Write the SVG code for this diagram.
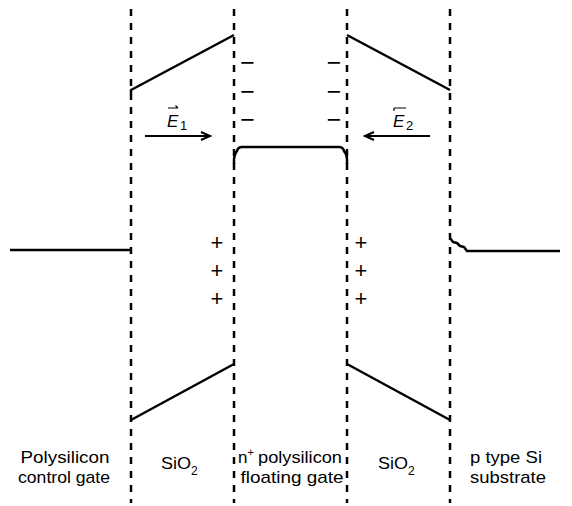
<svg xmlns="http://www.w3.org/2000/svg" width="572" height="506" viewBox="0 0 572 506">
<defs>
<style>
.dash{stroke:#000;stroke-width:2.5;stroke-dasharray:7,7;fill:none}
.band{stroke:#000;stroke-width:2.5;fill:none;stroke-linejoin:round}
.arr{stroke:#000;stroke-width:2.2;fill:none}
.lbl{font-family:"Liberation Sans",Arial,Helvetica,sans-serif;font-size:17px;fill:#000}
.sym{font-family:"Liberation Sans",Arial,Helvetica,sans-serif;font-size:22px;fill:#000}
.neg{font-family:"Liberation Sans",Arial,Helvetica,sans-serif;font-size:25px;fill:#000}
.ital{font-family:"Liberation Sans",Arial,Helvetica,sans-serif;font-size:17px;font-style:italic;fill:#000}
.sub{font-family:"Liberation Sans",Arial,Helvetica,sans-serif;font-size:13px;fill:#000}
</style>
<marker id="ah" markerWidth="12" markerHeight="10" refX="10" refY="5" orient="auto" markerUnits="userSpaceOnUse">
<path d="M1,1 L10,5 L1,9" fill="none" stroke="#000" stroke-width="2"/>
</marker>
</defs>
<g id="boundaries">
<line class="dash" x1="131" y1="9" x2="131" y2="503"/>
<line class="dash" x1="234" y1="9" x2="234" y2="503"/>
<line class="dash" x1="347" y1="9" x2="347" y2="503"/>
<line class="dash" x1="450" y1="9" x2="450" y2="503"/>
</g>
<g id="control-gate">
<line class="band" x1="10" y1="250" x2="131" y2="250"/>
<text class="lbl" x="65" y="463" text-anchor="middle" textLength="89" lengthAdjust="spacingAndGlyphs">Polysilicon</text>
<text class="lbl" x="64" y="483" text-anchor="middle" textLength="92" lengthAdjust="spacingAndGlyphs">control gate</text>
</g>
<g id="oxide-left">
<polyline class="band" points="131,93 131,90 234,35"/>
<line class="band" x1="131" y1="420" x2="234" y2="364"/>
<text class="lbl" x="161" y="469"><tspan textLength="30" lengthAdjust="spacingAndGlyphs">SiO</tspan><tspan font-size="12" dy="6">2</tspan></text>
<text class="ital" x="167" y="127">E</text>
<text class="sub" x="180" y="130">1</text>
<path d="M168,108 H178 M175.5,105.5 L178,108" stroke="#000" stroke-width="1.2" fill="none"/>
<text class="sym" x="217" y="250" text-anchor="middle">+</text>
<text class="sym" x="217" y="278" text-anchor="middle">+</text>
<text class="sym" x="217" y="306" text-anchor="middle">+</text>
</g>
<g id="floating-gate">
<path class="band" d="M234,164 L234,159 Q235,153 237,151 Q238,147 242,147 L339,147 Q343,147 344,151 Q347,154 347,159 L347,164"/>
<text class="neg" x="247.5" y="71" text-anchor="middle">−</text>
<text class="neg" x="247.5" y="100" text-anchor="middle">−</text>
<text class="neg" x="247.5" y="128" text-anchor="middle">−</text>
<text class="neg" x="334" y="71" text-anchor="middle">−</text>
<text class="neg" x="334" y="100" text-anchor="middle">−</text>
<text class="neg" x="334" y="128" text-anchor="middle">−</text>
<text class="lbl" x="238" y="463">n<tspan font-size="11" dy="-7">+</tspan></text>
<text class="lbl" x="258" y="463" textLength="84" lengthAdjust="spacingAndGlyphs">polysilicon</text>
<text class="lbl" x="292" y="483" text-anchor="middle" textLength="103" lengthAdjust="spacingAndGlyphs">floating gate</text>
</g>
<g id="oxide-right">
<line class="band" x1="347" y1="35" x2="450" y2="90"/>
<line class="band" x1="347" y1="364" x2="450" y2="420"/>
<text class="lbl" x="378" y="469"><tspan textLength="30" lengthAdjust="spacingAndGlyphs">SiO</tspan><tspan font-size="12" dy="6">2</tspan></text>
<text class="ital" x="393" y="127">E</text>
<text class="sub" x="406" y="130">2</text>
<path d="M394,108 H406 M394,108 L394,111" stroke="#000" stroke-width="1.2" fill="none"/>
<text class="sym" x="361" y="250" text-anchor="middle">+</text>
<text class="sym" x="361" y="278" text-anchor="middle">+</text>
<text class="sym" x="361" y="306" text-anchor="middle">+</text>
</g>
<g id="substrate">
<polyline class="band" points="450,238 453,242 457,243 460,246 464,247 467,251 470,251 560,251"/>
<text class="lbl" x="470" y="463" textLength="72" lengthAdjust="spacingAndGlyphs">p type Si</text>
<text class="lbl" x="470" y="483" textLength="76" lengthAdjust="spacingAndGlyphs">substrate</text>
</g>
<g id="connectors">
<line class="arr" x1="145" y1="136" x2="210" y2="136" marker-end="url(#ah)"/>
<line class="arr" x1="430" y1="136" x2="365" y2="136" marker-end="url(#ah)"/>
</g>
</svg>
